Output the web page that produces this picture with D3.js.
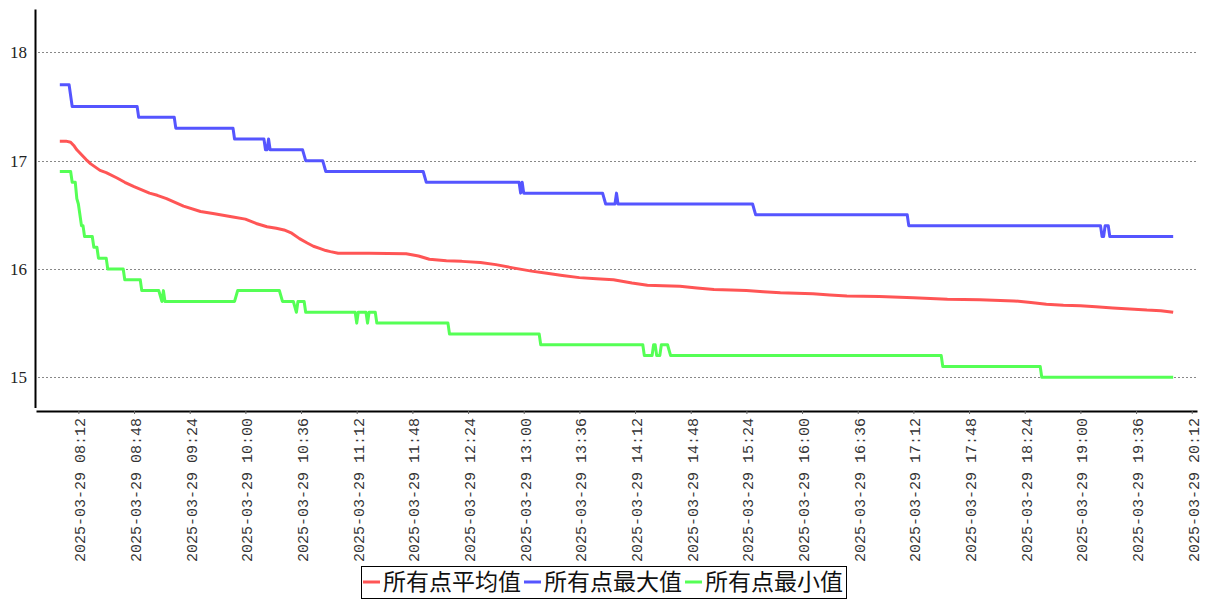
<!DOCTYPE html>
<html><head><meta charset="utf-8">
<script src="https://cdn.jsdelivr.net/npm/d3@7"></script>
<style>body{margin:0;background:#fff} svg{display:block}</style>
</head><body>
<svg id="chart" width="1207" height="600"></svg>
<script>
const day = "2025-03-29";
const seriesNames = ["所有点平均值", "所有点最大值", "所有点最小值"];
const seriesColors = ["#FF5555", "#5555FF", "#55FF55"];

const avgSeries = [
  ["08:00",17.18],["08:04",17.18],["08:07",17.17],["08:09",17.14],["08:11",17.10],["08:13",17.07],
  ["08:17",17.01],["08:20",16.97],["08:26",16.91],["08:30",16.89],["08:37",16.84],["08:42",16.80],
  ["08:48",16.76],["08:53",16.73],["08:58",16.70],["09:03",16.68],["09:09",16.65],["09:20",16.58],
  ["09:31",16.53],["09:40",16.51],["09:52",16.48],["10:00",16.46],["10:07",16.42],["10:14",16.39],
  ["10:20",16.375],["10:25",16.36],["10:30",16.33],["10:35",16.28],["10:40",16.24],["10:44",16.21],
  ["10:48",16.19],["10:52",16.17],["10:55",16.16],["11:00",16.145],["11:20",16.145],["11:44",16.14],
  ["11:52",16.12],["11:59",16.09],["12:10",16.075],["12:20",16.07],["12:32",16.06],["12:42",16.04],
  ["12:53",16.01],["13:05",15.98],["13:15",15.96],["13:25",15.94],["13:36",15.92],["13:47",15.91],
  ["13:58",15.90],["14:10",15.87],["14:20",15.85],["14:30",15.845],["14:41",15.84],["14:52",15.825],
  ["15:03",15.81],["15:14",15.805],["15:24",15.80],["15:35",15.79],["15:46",15.78],["16:07",15.77],
  ["16:18",15.76],["16:29",15.75],["16:50",15.745],["17:12",15.735],["17:34",15.72],["17:55",15.715],
  ["18:17",15.705],["18:28",15.69],["18:38",15.675],["18:49",15.665],["19:00",15.66],["19:10",15.65],
  ["19:21",15.64],["19:32",15.63],["19:43",15.62],["19:52",15.615],["20:00",15.60]
];

const maxSeries = [
  ["08:00",17.7],["08:06",17.7],["08:08",17.5],["08:50",17.5],["08:51",17.4],["09:14",17.4],
  ["09:15",17.3],["09:52",17.3],["09:53",17.2],["10:12",17.2],["10:13",17.1],["10:14",17.1],
  ["10:15",17.2],["10:16",17.1],["10:37",17.1],["10:39",17.0],["10:50",17.0],["10:52",16.9],
  ["11:55",16.9],["11:57",16.8],["12:57",16.8],["12:58",16.7],["12:59",16.8],["13:00",16.7],
  ["13:51",16.7],["13:53",16.6],["13:59",16.6],["14:00",16.7],["14:01",16.6],["15:28",16.6],
  ["15:30",16.5],["17:08",16.5],["17:09",16.4],["19:13",16.4],["19:14",16.3],["19:15",16.3],
  ["19:16",16.4],["19:18",16.4],["19:19",16.3],["20:00",16.3]
];

const minSeries = [
  ["08:00",16.9],["08:07",16.9],["08:08",16.8],["08:10",16.8],["08:11",16.65],["08:12",16.6],
  ["08:13",16.5],["08:14",16.4],["08:15",16.4],["08:16",16.3],["08:21",16.3],["08:22",16.2],
  ["08:24",16.2],["08:25",16.1],["08:30",16.1],["08:31",16.0],["08:41",16.0],["08:42",15.9],
  ["08:52",15.9],["08:53",15.8],["09:04",15.8],["09:06",15.7],["09:07",15.8],["09:08",15.7],
  ["09:53",15.7],["09:55",15.8],["10:22",15.8],["10:24",15.7],["10:31",15.7],["10:33",15.6],
  ["10:34",15.7],["10:38",15.7],["10:39",15.6],["11:11",15.6],["11:12",15.5],["11:13",15.6],
  ["11:18",15.6],["11:19",15.5],["11:20",15.6],["11:24",15.6],["11:25",15.5],["12:11",15.5],
  ["12:12",15.4],["13:10",15.4],["13:11",15.3],["14:17",15.3],["14:18",15.2],["14:23",15.2],
  ["14:24",15.3],["14:25",15.3],["14:26",15.2],["14:28",15.2],["14:29",15.3],["14:33",15.3],
  ["14:35",15.2],["17:30",15.2],["17:31",15.1],["18:34",15.1],["18:35",15.0],["20:00",15.0]
];

const xTickLabels = ["08:12","08:48","09:24","10:00","10:36","11:12","11:48","12:24","13:00","13:36",
  "14:12","14:48","15:24","16:00","16:36","17:12","17:48","18:24","19:00","19:36","20:12"];
const yTickValues = [15, 16, 17, 18];
const xDomainBounds = ["07:44:36", "20:15:24"];
const yDomainBounds = [14.72, 18.4];

const parseT = d3.timeParse("%Y-%m-%d %H:%M:%S");
const toDate = s => parseT(day + " " + (s.length === 5 ? s + ":00" : s));

const svg = d3.select("#chart");

const x = d3.scaleTime().domain(xDomainBounds.map(toDate)).range([36, 1197]);
const y = d3.scaleLinear().domain(yDomainBounds).range([407.6, 9]);

// grid
svg.append("g").selectAll("line").data(yTickValues).join("line")
  .attr("x1", 38).attr("x2", 1197)
  .attr("y1", d => Math.round(y(d)) + 0.5).attr("y2", d => Math.round(y(d)) + 0.5)
  .attr("stroke", "#888").attr("stroke-width", 1).attr("stroke-dasharray", "2,2");

// y axis
const yAxis = svg.append("g").attr("transform", "translate(35,0)")
  .call(d3.axisLeft(y).tickValues(yTickValues).tickSize(0).tickPadding(8).tickFormat(d3.format("d")));
yAxis.select(".domain").attr("stroke", "#000").attr("stroke-width", 2);
yAxis.selectAll("text").attr("font-family", "'Liberation Serif', serif").attr("font-size", 17).attr("fill", "#222");

// x axis
const xAxis = svg.append("g").attr("transform", "translate(0,411)")
  .call(d3.axisBottom(x).tickValues(xTickLabels.map(toDate)).tickSize(3).tickSizeOuter(0)
    .tickFormat(d3.timeFormat("%Y-%m-%d %H:%M")));
xAxis.select(".domain").attr("stroke", "#000").attr("stroke-width", 2);
xAxis.selectAll(".tick line").attr("stroke", "#666");
xAxis.selectAll("text")
  .attr("font-family", "'Liberation Mono', monospace").attr("font-size", 15).attr("fill", "#333")
  .attr("transform", "rotate(-90)").attr("x", -7).attr("y", 0).attr("dy", "0.42em")
  .attr("text-anchor", "end");

// lines
const line = d3.line().x(d => x(toDate(d[0]))).y(d => y(d[1]));
[avgSeries, maxSeries, minSeries].forEach((s, i) => {
  svg.append("path").datum(s).attr("d", line)
    .attr("fill", "none").attr("stroke", seriesColors[i]).attr("stroke-width", 3)
    .attr("stroke-linejoin", "round");
});

// legend
const lg = svg.append("g");
let cx = 0;
const ly = 582;
seriesNames.forEach((n, i) => {
  lg.append("line").attr("x1", cx + 2).attr("x2", cx + 19).attr("y1", ly).attr("y2", ly)
    .attr("stroke", seriesColors[i]).attr("stroke-width", 3);
  const t = lg.append("text").attr("x", cx + 22).attr("y", ly).attr("dy", "0.36em")
    .attr("font-family", "'Noto Sans CJK SC', sans-serif").attr("font-size", 23).attr("fill", "#111")
    .text(n);
  cx += 22 + t.node().getComputedTextLength() + 1;
});
const totalW = cx + 2;
lg.insert("rect", ":first-child").attr("x", 0.5).attr("y", 0.5 + 566).attr("width", totalW).attr("height", 32)
  .attr("fill", "none").attr("stroke", "#000").attr("stroke-width", 1);
lg.attr("transform", `translate(${Math.round(603.5 - totalW / 2)},0)`);
</script>
</body></html>
